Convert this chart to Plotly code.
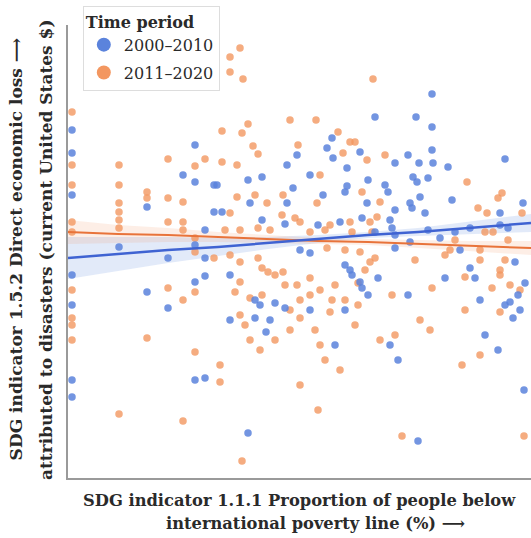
import plotly.graph_objects as go

# ---- data (arbitrary units, no tick labels shown) ----
blue_x = [127, 307, 264, 259, 229, 219, 265, 279, 292, 364, 348, 364, 364, 340, 327, 351, 365, 380, 437,
          4, 4, 4, 4, 4, 4, 4,
          51, 79, 100, 100, 115, 127, 127, 127, 137, 137, 137, 146, 146, 79, 127, 137, 180, 350, 456, 430,
          149, 180, 194, 225, 242, 277, 279, 300, 299, 182, 219, 255, 154, 194, 217, 250, 272, 294, 232, 242,
          277, 282, 162, 284, 292, 294, 300, 192, 207, 217, 242, 162, 187, 277,
          317, 320, 345, 349, 360, 384, 455, 327, 342, 344, 352, 357, 432, 322, 324, 307, 327, 360, 387, 402,
          432, 440, 372, 327, 342, 392, 447, 407, 402, 310, 377, 457, 450, 340, 412, 442, 437, 452, 445,
          187, 202, 267, 322, 417, 198, 330]
blue_y = [333, 361, 340, 330, 323, 313, 320, 310, 326, 384, 361, 351, 328, 323, 315, 315, 315, 311, 319,
          348, 325, 283, 203, 173, 98, 81,
          231, 271, 220, 170, 303, 296, 233, 196, 248, 220, 202, 293, 266, 186, 98, 100, 45, 37, 88, 128,
          293, 298, 301, 290, 303, 286, 292, 298, 275, 275, 275, 283, 266, 258, 254, 253, 256, 260, 228, 225,
          213, 208, 203, 203, 196, 190, 183, 173, 175, 170, 168, 158, 160, 168,
          293, 286, 301, 296, 300, 278, 275, 268, 275, 270, 281, 265, 265, 258, 250, 246, 243, 248, 246, 250,
          253, 250, 240, 230, 236, 228, 216, 200, 210, 200, 200, 195, 183, 183, 178, 176, 173, 168, 160,
          178, 158, 133, 133, 143, 146, 118]

orange_x = [172, 162, 162, 175, 222, 248, 154, 180, 174, 185, 190, 154, 169, 230, 270, 282, 287, 275, 299, 305, 317,
            51, 100, 127, 137,
            4, 4, 4, 4, 4, 4, 4, 4, 4,
            51, 51, 51, 51, 51, 79, 79, 100, 100, 100, 115, 115, 115, 127, 127, 127, 115, 146, 79, 127, 152, 152,
            51, 115, 174, 334, 456,
            252, 169, 187, 199, 215, 249, 294, 162, 214, 227, 232, 262, 282, 302, 157, 172, 190, 202, 242, 257,
            284, 304, 162, 259, 277, 292, 307, 172, 190, 194, 200, 207, 215, 297, 302, 217, 229, 172, 242, 252,
            267, 290, 167, 182, 194, 232, 242, 264, 277, 222, 262, 232, 290,
            399, 434, 430, 312, 410, 419, 309, 417, 425, 440, 387, 382, 412, 347, 377, 412, 437, 432, 397, 432,
            442, 364, 452, 424, 324, 432, 454,
            182, 192, 172, 177, 247, 252, 257, 232, 272, 312, 287, 327, 352, 362, 397, 412, 394, 250, 222, 207]
orange_y = [430, 421, 406, 399, 358, 358, 347, 354, 345, 332, 324, 316, 313, 333, 346, 336, 336, 325, 318, 399, 323,
            313, 319, 312, 319,
            366, 313, 293, 256, 246, 188, 160, 153, 138,
            293, 275, 266, 258, 250, 286, 280, 280, 256, 190, 276, 256, 248, 240, 226, 186, 178, 220, 140, 126, 113, 96,
            64, 57, 17, 42, 42,
            303, 281, 283, 275, 283, 275, 286, 265, 263, 260, 256, 253, 256, 256, 248, 248, 250, 248, 246, 248,
            246, 246, 223, 230, 228, 226, 220, 216, 220, 210, 206, 203, 206, 208, 216, 193, 193, 196, 200, 188,
            193, 195, 186, 180, 183, 178, 183, 178, 178, 168, 166, 160, 173,
            296, 285, 280, 276, 270, 265, 261, 246, 246, 238, 238, 228, 228, 218, 223, 218, 218, 208, 201, 203,
            193, 190, 188, 190, 183, 166, 265,
            138, 128, 163, 153, 148, 133, 118, 93, 108, 138, 153, 143, 158, 148, 168, 123, 113, 68, 148, 138]

# fitted trend lines with confidence half-widths
fit_x = [0, 50, 100, 150, 200, 250, 300, 350, 400, 463]
blue_fit = [220, 224, 228, 231, 235, 239, 243, 246, 250, 255]
blue_ci = [21, 17, 13, 9, 6, 4, 3, 4, 6, 9]
orange_fit = [246, 244, 243, 241, 239, 237, 236, 234, 232, 230]
orange_ci = [12, 9, 7, 5, 4, 3, 3, 4, 5, 7]

series_names = ["2000\u20132010", "2011\u20132020"]
BLUE = "#5b83dc"
ORANGE = "#f39760"
SERIF = "DejaVu Serif"
TEXT = "#2a2a2a"

fig = go.Figure()


def band(xs, fit, ci, color):
    upper = [f + c for f, c in zip(fit, ci)]
    lower = [f - c for f, c in zip(fit, ci)]
    fig.add_trace(go.Scatter(x=xs + xs[::-1], y=upper + lower[::-1], fill="toself",
                             fillcolor=color, line=dict(width=0), mode="lines",
                             hoverinfo="skip", showlegend=False))


band(fit_x, blue_fit, blue_ci, "rgba(110,150,225,0.20)")
band(fit_x, orange_fit, orange_ci, "rgba(240,150,100,0.16)")

fig.add_trace(go.Scatter(x=orange_x, y=orange_y, mode="markers", showlegend=False,
                         marker=dict(color=ORANGE, size=7.5, opacity=0.8)))
fig.add_trace(go.Scatter(x=blue_x, y=blue_y, mode="markers", showlegend=False,
                         marker=dict(color=BLUE, size=7.5, opacity=0.85)))

fig.add_trace(go.Scatter(x=fit_x, y=orange_fit, mode="lines", showlegend=False,
                         line=dict(color="#e8733a", width=2)))
fig.add_trace(go.Scatter(x=fit_x, y=blue_fit, mode="lines", showlegend=False,
                         line=dict(color="#3f63d2", width=2.5)))

# legend entries
fig.add_trace(go.Scatter(x=[None], y=[None], mode="markers", name=series_names[0], legendgroup="a",
                         marker=dict(color=BLUE, size=14)))
fig.add_trace(go.Scatter(x=[None], y=[None], mode="markers", name=series_names[1], legendgroup="b",
                         marker=dict(color=ORANGE, size=14)))

fig.update_layout(
    width=531, height=538,
    margin=dict(l=68, r=0, t=25, b=60),
    paper_bgcolor="white", plot_bgcolor="white",
    font=dict(family=SERIF, color=TEXT),
    legend=dict(title=dict(text="<b>Time period</b>", font=dict(size=16, family=SERIF, color=TEXT)),
                font=dict(size=16, family=SERIF, color=TEXT),
                x=0.032, y=1.042, xanchor="left", yanchor="top",
                bgcolor="white", bordercolor="#dddddd", borderwidth=1,
                itemsizing="trace", tracegroupgap=4),
    xaxis=dict(range=[0, 463], showgrid=False, zeroline=False, showticklabels=False, ticks="",
               showline=True, linecolor="#9a9a9a", linewidth=2),
    yaxis=dict(range=[0, 453], showgrid=False, zeroline=False, showticklabels=False, ticks="",
               showline=True, linecolor="#9a9a9a", linewidth=2),
    annotations=[
        dict(text="<b>SDG indicator 1.1.1 Proportion of people below</b>", xref="paper", yref="paper",
             x=0.5, y=-0.05, xanchor="center", yanchor="middle", showarrow=False,
             font=dict(size=16.3, family=SERIF, color=TEXT)),
        dict(text="<b>international poverty line (%) \u27f6</b>", xref="paper", yref="paper",
             x=0.535, y=-0.1, xanchor="center", yanchor="middle", showarrow=False,
             font=dict(size=16.3, family=SERIF, color=TEXT)),
        dict(text="<b>SDG indicator 1.5.2 Direct economic loss \u27f6</b>", xref="paper", yref="paper",
             x=-0.112, y=0.505, xanchor="center", yanchor="middle", textangle=-90, showarrow=False,
             font=dict(size=17, family=SERIF, color=TEXT)),
        dict(text="<b>attributed to disasters (current United States $)</b>", xref="paper", yref="paper",
             x=-0.048, y=0.505, xanchor="center", yanchor="middle", textangle=-90, showarrow=False,
             font=dict(size=17, family=SERIF, color=TEXT)),
    ],
)

fig.write_html("out.html", config={"displayModeBar": False},
               post_script="document.body.style.margin='0px';")
